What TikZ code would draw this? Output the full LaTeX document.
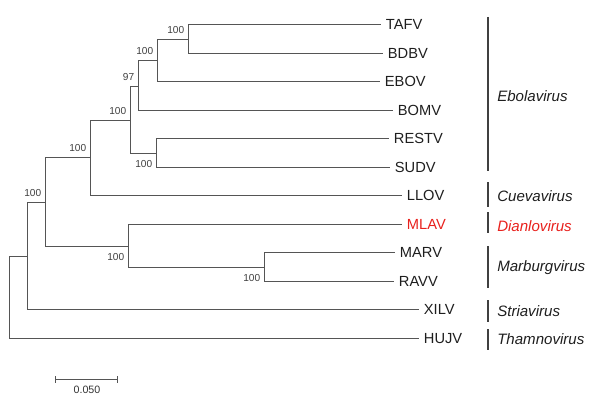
\documentclass[tikz,border=0pt]{standalone}
\usepackage{fontspec}
\setmainfont{Liberation Sans}
\usetikzlibrary{arrows.meta}

\definecolor{branchgray}{HTML}{555555}
\definecolor{tipblack}{HTML}{1E1E1E}
\definecolor{mlavred}{HTML}{E8211D}

\tikzset{
    branch/.style={draw=branchgray, line width=1pt},
    leaf/.style={anchor=west, inner xsep=3.5pt, inner ysep=0pt, font=\fontsize{11}{12}\selectfont},
    boot/.style={inner sep=0pt, text=black!75, font=\fontsize{7.6}{8}\selectfont},
    clade/.style={anchor=west, inner sep=0pt, font=\fontsize{11.3}{12}\selectfont\itshape},
    cladebar/.style={draw=black!75, line width=1.4pt},
}

\begin{document}
\begin{tikzpicture}[x=0.75pt, y=-0.75pt]
    \useasboundingbox (0,0) rectangle (600,403);

    % TIPS
    \foreach \name/\x/\y/\col in {TAFV/381/24.5/tipblack, BDBV/383/53.5/tipblack,
                                  EBOV/380/81.5/tipblack, BOMV/393/110.5/tipblack,
                                  RESTV/389/138.5/tipblack, SUDV/390/167.5/tipblack,
                                  LLOV/402/195.5/tipblack, MLAV/402/224.5/mlavred,
                                  MARV/395/252.5/tipblack, RAVV/394/281.5/tipblack,
                                  XILV/419/309.5/tipblack, HUJV/419/338.5/tipblack} {
        \node[leaf, text=\col] (\name) at (\x,\y) {\name};
    }

    % INTERNAL NODES
    \coordinate (n1) at (188.5,39.5);   % TAFV + BDBV
    \coordinate (n2) at (157.5,60.5);   % n1 + EBOV
    \coordinate (n3) at (138.5,86.5);   % n2 + BOMV
    \coordinate (n4) at (156.5,153.5);  % RESTV + SUDV
    \coordinate (n5) at (130.5,120.5);  % n3 + n4
    \coordinate (n6) at (90.5,157.5);   % n5 + LLOV
    \coordinate (n7) at (264.5,267.5);  % MARV + RAVV
    \coordinate (n8) at (128.5,246.5);  % MLAV + n7
    \coordinate (n9) at (45.5,202.5);   % n6 + n8
    \coordinate (n10) at (27.5,256.5);  % n9 + XILV
    \coordinate (root) at (9.5,297.5);  % n10 + HUJV

    % BRANCHES
    \foreach \a/\b in {n1/TAFV, n1/BDBV, n2/n1, n2/EBOV, n3/n2, n3/BOMV,
                       n4/RESTV, n4/SUDV, n5/n3, n5/n4, n6/n5, n6/LLOV,
                       n7/MARV, n7/RAVV, n8/MLAV, n8/n7, n9/n6, n9/n8,
                       n10/n9, n10/XILV, root/n10, root/HUJV} {
        \draw[branch] (\a) |- (\b);
    }

    % BOOTSTRAP VALUES
    \foreach \n/\v in {n1/100, n2/100, n3/97, n5/100, n6/100, n9/100} {
        \node[boot, anchor=south east, xshift=-3pt, yshift=4.5pt] (b\n) at (\n) {\v};
    }
    \foreach \n/\v in {n4/100, n7/100, n8/100} {
        \node[boot, anchor=north east, xshift=-3pt, yshift=-5pt] (b\n) at (\n) {\v};
    }

    % GENUS BARS
    \foreach \ya/\yb/\ym/\txt/\col in {17/171/96/Ebolavirus/tipblack,
                                       182/207/196/Cuevavirus/tipblack,
                                       212/233/226/Dianlovirus/mlavred,
                                       246/288/268/Marburgvirus/tipblack,
                                       300/322/311/Striavirus/tipblack,
                                       329/350/339/Thamnovirus/tipblack} {
        \draw[cladebar] (488,\ya) -- (488,\yb);
        \node[clade, text=\col] (\txt) at (497,\ym) {\txt};
    }

    % SCALE BAR
    \coordinate (sbl) at (55,379.5);
    \coordinate (sbr) at (118,379.5);
    \draw[branch, {Bar[width=5pt]}-{Bar[width=5pt]}] (sbl) -- (sbr);
    \node[boot, text=black!80, font=\fontsize{8}{9}\selectfont] (scale) at (87,390) {0.050};
\end{tikzpicture}
\end{document}
